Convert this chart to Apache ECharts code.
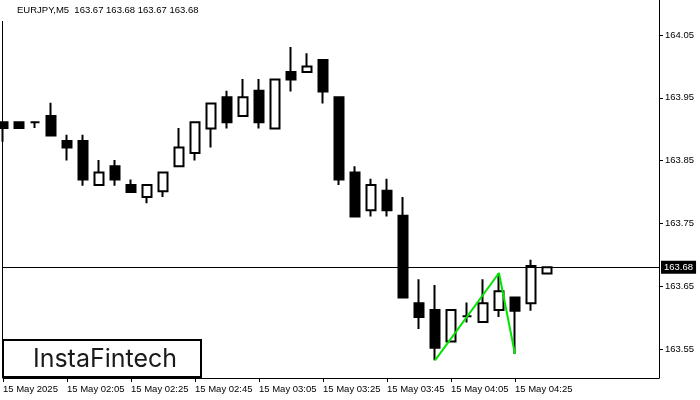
<!DOCTYPE html>
<html>
<head>
<meta charset="utf-8">
<script src="https://cdn.jsdelivr.net/npm/echarts@6/dist/echarts.min.js"></script>
<style>html,body{margin:0;padding:0;background:#fff}#c{width:700px;height:400px}</style>
</head>
<body>
<div id="c"></div>
<script>
// ---- data ----
var times = ['01:45','01:50','01:55','02:00','02:05','02:10','02:15','02:20','02:25','02:30','02:35','02:40','02:45','02:50','02:55','03:00','03:05','03:10','03:15','03:20','03:25','03:30','03:35','03:40','03:45','03:50','03:55','04:00','04:05','04:10','04:15','04:20','04:25','04:30','04:35'];
var opens  = [163.911,163.911,163.911,163.921,163.881,163.881,163.811,163.841,163.811,163.792,163.801,163.841,163.862,163.901,163.951,163.921,163.961,163.901,163.991,163.991,164.010,163.951,163.831,163.771,163.802,163.762,163.623,163.612,163.562,163.602,163.593,163.612,163.632,163.623,163.670];
var closes = [163.902,163.902,163.911,163.890,163.871,163.820,163.831,163.820,163.800,163.811,163.831,163.871,163.911,163.941,163.911,163.951,163.911,163.979,163.979,164.000,163.960,163.820,163.761,163.811,163.771,163.632,163.601,163.552,163.612,163.602,163.623,163.642,163.611,163.682,163.680];
var lows   = [163.880,163.902,163.902,163.890,163.850,163.810,163.811,163.810,163.800,163.782,163.792,163.841,163.850,163.871,163.901,163.921,163.901,163.901,163.960,163.991,163.941,163.811,163.761,163.761,163.761,163.632,163.582,163.532,163.562,163.592,163.593,163.601,163.542,163.611,163.670];
var highs  = [163.911,163.911,163.911,163.942,163.891,163.891,163.851,163.851,163.820,163.811,163.831,163.902,163.911,163.941,163.961,163.980,163.980,163.979,164.031,164.021,164.010,163.951,163.841,163.821,163.821,163.792,163.661,163.652,163.612,163.624,163.661,163.671,163.632,163.692,163.680];
var emptySlots = ['e1','e2','e3','e4','e5','e6','e7'];
var xTickLabels = ['15 May 2025','15 May 02:05','15 May 02:25','15 May 02:45','15 May 03:05','15 May 03:25','15 May 03:45','15 May 04:05','15 May 04:25'];
var yTickValues = [163.55,163.65,163.75,163.85,163.95,164.05];
var patternTimes = ['04:00','04:20','04:25'];
var patternPrices = [163.532,163.671,163.542];
var currentPrice = 163.68;
var titleText = 'EURJPY,M5  163.67 163.68 163.67 163.68';
var logoText = 'InstaFintech';

// ---- build ----
var cats = times.concat(emptySlots);
var candleData = times.map(function (t, i) { return [opens[i], closes[i], lows[i], highs[i]]; });
var patternData = patternTimes.map(function (t, i) { return [t, patternPrices[i]]; });
var FONT = 'Liberation Sans';

var chart = echarts.init(document.getElementById('c'), null, {renderer: 'canvas'});
chart.setOption({
  animation: false,
  backgroundColor: '#fff',
  title: {
    text: titleText, left: 17, top: 5, padding: 0,
    textStyle: {fontFamily: FONT, fontSize: 9.5, fontWeight: 'normal', color: '#000'}
  },
  grid: {left: 3, right: 41, top: 0, bottom: 22, containLabel: false},
  xAxis: {
    type: 'category', data: cats, boundaryGap: false,
    axisLine: {show: true, lineStyle: {color: '#000', width: 1}},
    axisTick: {show: true, length: 4, lineStyle: {color: '#000'},
      interval: function (i) { return i % 4 === 0 && i < times.length; }},
    axisLabel: {
      show: true, margin: 6, align: 'left', color: '#000', fontFamily: FONT, fontSize: 9.5,
      hideOverlap: false,
      interval: function (i) { return i % 4 === 0 && i < times.length; },
      formatter: function (v, i) { return xTickLabels[i / 4] || ''; }
    },
    splitLine: {show: false}
  },
  yAxis: {
    type: 'value', position: 'right', scale: true,
    min: 163.5038, max: 164.1057,
    axisLine: {show: true, lineStyle: {color: '#000', width: 1}},
    axisTick: {show: true, length: 4, inside: false, lineStyle: {color: '#000'}, customValues: yTickValues},
    axisLabel: {show: true, margin: 6, color: '#000', fontFamily: FONT, fontSize: 9.5, customValues: yTickValues,
      formatter: function (v) { return v.toFixed(2); }},
    splitLine: {show: false}
  },
  series: [
    {
      type: 'candlestick', data: candleData, barWidth: 9,
      itemStyle: {color: '#fff', color0: '#000', borderColor: '#000', borderColor0: '#000', borderWidth: 2},
      markLine: {
        silent: true, symbol: ['none', 'none'], animation: false,
        lineStyle: {color: '#000', width: 1, type: 'solid'},
        label: {show: true, position: 'end', distance: 2, color: '#fff', backgroundColor: '#000',
          fontFamily: FONT, fontSize: 9.5, padding: [2, 3, 1, 3],
          formatter: function () { return currentPrice.toFixed(2); }},
        data: [{yAxis: currentPrice}]
      }
    },
    {
      type: 'line', data: patternData, symbol: 'none', z: 5,
      lineStyle: {color: '#00e600', width: 2}
    }
  ],
  graphic: [
    {type: 'line', shape: {x1: 2.5, y1: 21, x2: 2.5, y2: 378}, style: {stroke: '#000', lineWidth: 1}, z: 10},
    {type: 'rect', shape: {x: 3, y: 340, width: 198, height: 37}, style: {fill: '#fff', stroke: '#000', lineWidth: 2}, z: 20},
    {type: 'text', x: 105, y: 359, style: {text: logoText, fill: '#1a1a1a', font: '400 25px Inter', textAlign: 'center', textVerticalAlign: 'middle'}, z: 21}
  ]
});
</script>
</body>
</html>
